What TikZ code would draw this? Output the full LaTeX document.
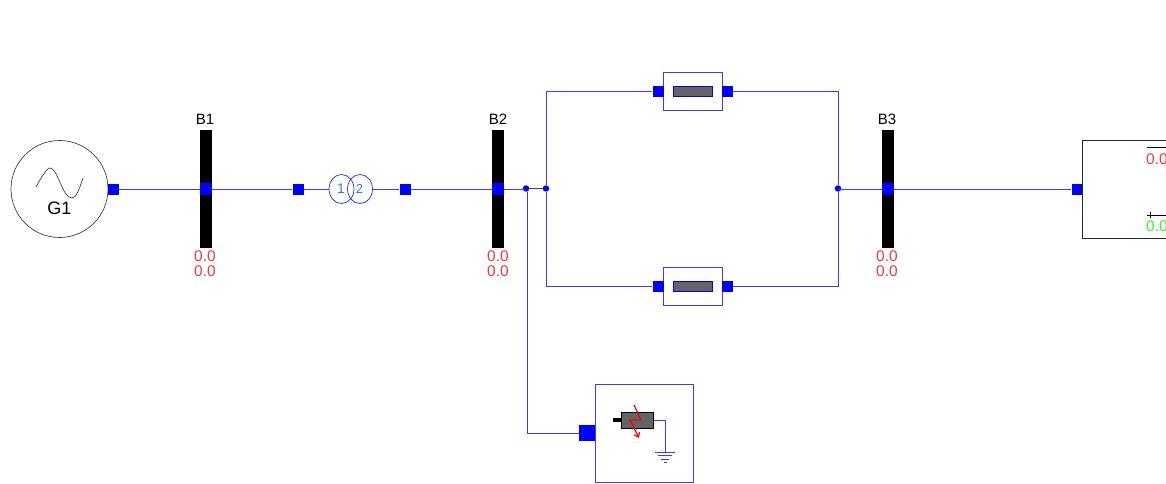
\documentclass[tikz,border=0pt]{standalone}
\usepackage{fontspec}
\setmainfont{Liberation Sans}
\usetikzlibrary{arrows.meta}
\usetikzlibrary{shapes.geometric}
\usetikzlibrary{positioning}

\definecolor{wire}{RGB}{60,60,255}
\definecolor{portblue}{RGB}{0,0,255}
\definecolor{valred}{RGB}{240,60,60}
\definecolor{valgreen}{RGB}{40,255,40}
\definecolor{coilnum}{RGB}{50,120,215}
\definecolor{blockgray}{RGB}{100,100,100}

\tikzset{
  wireline/.style={draw=wire, line width=1pt},
  portsq/.style={fill=portblue, inner sep=0pt, minimum size=11pt},
  bigport/.style={fill=portblue, inner sep=0pt, minimum size=16pt},
  busport/.style={fill=portblue, inner sep=0pt, minimum size=12pt},
  busbar/.style={fill=black, inner sep=0pt, minimum width=12.5pt, minimum height=118pt},
  junct/.style={circle, fill=portblue, inner sep=0pt, minimum size=6.5pt},
  coil/.style={ellipse, draw=portblue!85!white, line width=0.7pt, inner sep=0pt, minimum width=25pt, minimum height=29pt},
  linebox/.style={draw=wire, line width=1pt, inner sep=0pt, minimum width=59pt, minimum height=38pt},
  linecore/.style={fill=blockgray, draw=portblue, line width=1pt, inner sep=0pt, minimum width=39pt, minimum height=10pt},
  buslabel/.style={font=\fontsize{15}{15}\selectfont},
  val/.style={text=valred, font=\fontsize{15.5}{15.5}\selectfont, inner sep=0pt},
}

\begin{document}
\begin{tikzpicture}[x=1pt, y=-1pt]
  \useasboundingbox (0,0) rectangle (1166,484);
  \clip (0,0) rectangle (1166,484);

  % generator
  \node[circle, draw=black!75, line width=0.7pt, inner sep=0pt, minimum size=97pt] (gen) at (59.5,189) {};
  \node[font=\fontsize{18}{18}\selectfont, inner sep=0pt] (genlabel) at (59.5,208.5) {G1};
  \coordinate (sineA) at (36,187);
  \coordinate (sineB) at (83,178);
  \draw[black!75, line width=0.7pt] (sineA) .. controls (44,172) and (48,168) .. (50,168)
    .. controls (58,168) and (62,198) .. (72,198) .. controls (76,198) and (79,190) .. (sineB);

  % bus bars
  \node[busbar] (busA) at (206,189) {};
  \node[busbar] (busB) at (498,189) {};
  \node[busbar] (busC) at (888,189) {};
  \node[buslabel] (labA) at (205,119) {B1};
  \node[buslabel] (labB) at (498,119) {B2};
  \node[buslabel] (labC) at (887,119) {B3};
  \node[val] (valAa) at (205,256) {0.0};
  \node[val] (valAb) at (205,271) {0.0};
  \node[val] (valBa) at (498,256) {0.0};
  \node[val] (valBb) at (498,271) {0.0};
  \node[val] (valCa) at (887,256) {0.0};
  \node[val] (valCb) at (887,271) {0.0};

  % ports
  \node[portsq]  (pGen)  at (113,189) {};
  \node[busport] (pBusA) at (206,189) {};
  \node[portsq]  (pTrA)  at (298,189) {};
  \node[portsq]  (pTrB)  at (405,189) {};
  \node[busport] (pBusB) at (498,189) {};
  \node[busport] (pBusC) at (888,189) {};
  \node[portsq]  (pLoad) at (1077,189) {};

  % transformer
  \node[coil] (coilA) at (341.5,189) {};
  \node[coil] (coilB) at (360,189) {};
  \node[text=coilnum, font=\fontsize{14}{14}\selectfont, inner sep=0pt] (numA) at (341,189) {1};
  \node[text=coilnum, font=\fontsize{13}{13}\selectfont, inner sep=0pt] (numB) at (359.5,188.5) {2};

  % junctions
  \node[junct] (jFault) at (526,188.5) {};
  \node[junct] (jLeft)  at (546,188.5) {};
  \node[junct] (jRight) at (838,188.5) {};

  % parallel lines
  \node[linebox]  (lineA)   at (693,91.5) {};
  \node[linecore] (coreA)   at (692.5,91.5) {};
  \node[portsq]   (pLineAl) at (658,91.5) {};
  \node[portsq]   (pLineAr) at (727,91.5) {};
  \node[linebox]  (lineB)   at (693,286.5) {};
  \node[linecore] (coreB)   at (692.5,286.5) {};
  \node[portsq]   (pLineBl) at (658,286.5) {};
  \node[portsq]   (pLineBr) at (727,286.5) {};

  % fault block
  \node[draw=wire, line width=1pt, inner sep=0pt, minimum size=98pt] (fault) at (644,433) {};
  \node[bigport] (pFault) at (587,433) {};
  \node[fill=blockgray, draw=black, line width=0.8pt, inner sep=0pt, minimum width=32pt, minimum height=16pt] (faultcore) at (637.5,420.5) {};
  \node[fill=black, inner sep=0pt, minimum width=9pt, minimum height=4pt] (faultstub) at (617,420) {};
  \coordinate (gndtop) at (665,452);
  \coordinate (boltA) at (634,405);
  \coordinate (boltB) at (641,420);
  \coordinate (boltC) at (630,420);
  \coordinate (boltD) at (639,438);
  \draw[wire, line width=0.9pt] (faultcore.east) -| (gndtop);
  \draw[wire, line width=0.9pt] (655,452) -- (675,452);
  \draw[wire, line width=0.9pt] (658,455.5) -- (672,455.5);
  \draw[wire, line width=0.9pt] (661,459) -- (669,459);
  \draw[wire, line width=0.9pt] (664,462.5) -- (667,462.5);
  \draw[red, line width=1.2pt, -{Straight Barb[length=4pt,width=6pt]}] (boltA) -- (boltB) -- (boltC) -- (boltD);

  % load block, runs past the edge
  \coordinate (loadA) at (1180,140);
  \coordinate (loadB) at (1082,140);
  \coordinate (loadC) at (1082,238);
  \coordinate (loadD) at (1180,238);
  \draw[black!85, line width=0.8pt] (loadA) -- (loadB) -- (loadC) -- (loadD);
  \node[val, anchor=west] (valLoadA) at (1146,159) {0.0};
  \node[val, anchor=west, text=valgreen] (valLoadB) at (1146,226) {0.0};
  \coordinate (barA) at (1147,147);
  \coordinate (barB) at (1180,147);
  \coordinate (barC) at (1147,215);
  \coordinate (barD) at (1180,215);
  \draw[black, line width=0.6pt] (barA) -- (barB);
  \draw[black, line width=0.6pt] (barC) -- (barD);
  \draw[black, line width=0.6pt] (1150,212) -- (1150,218);

  % connectors
  \draw[wireline] (pGen) -- (pBusA);
  \draw[wireline] (pBusA) -- (pTrA);
  \draw[wireline] (pTrA) -- (coilA);
  \draw[wireline] (coilB) -- (pTrB);
  \draw[wireline] (pTrB) -- (pBusB);
  \draw[wireline] (pBusB) -- (pBusB -| jFault);
  \draw[wireline] (jFault) -- (jLeft);
  \draw[wireline] (jRight |- pBusC) -- (pBusC);
  \draw[wireline] (pBusC) -- (pLoad);
  \draw[wireline] (jLeft) |- (pLineAl);
  \draw[wireline] (jLeft) |- (pLineBl);
  \draw[wireline] (jRight) |- (pLineAr);
  \draw[wireline] (jRight) |- (pLineBr);
  \draw[wireline] (jFault.south) ++(1,0) |- (pFault);
\end{tikzpicture}
\end{document}
